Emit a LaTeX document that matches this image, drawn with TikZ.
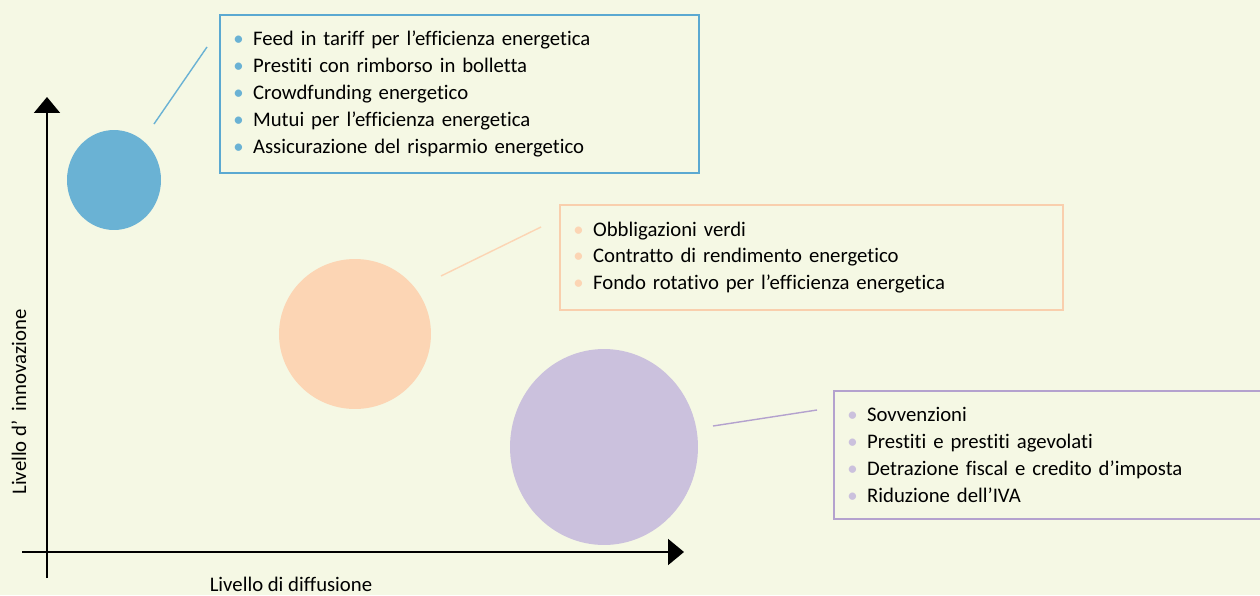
\documentclass[tikz,border=0pt]{standalone}
\usepackage{fontspec}
\setmainfont{Carlito}[Ligatures=NoCommon]
\usetikzlibrary{arrows.meta, positioning, shapes.geometric}
\definecolor{paper}{HTML}{F5F8E4}
\definecolor{bluefill}{HTML}{6AB2D4}
\definecolor{blueline}{HTML}{5BA9D1}
\definecolor{peachfill}{HTML}{FCD5B4}
\definecolor{peachline}{HTML}{F9CFAD}
\definecolor{lilacfill}{HTML}{CBC1DD}
\definecolor{lilacline}{HTML}{B4A2CE}
\newcommand{\listitem}[2]{{\color{#1}\textbullet}\hspace{0.45em}#2}

\begin{document}
\begin{tikzpicture}[
    x=0.02cm, y=-0.02cm,
    every node/.style={font=\fontsize{11.8}{15.25}\selectfont},
    axis/.style={
        line width=1.1pt,
        -{Triangle[length=0.32cm, width=0.52cm]}
    },
    blob/.style={
        ellipse,
        inner sep=0pt,
        fill=#1
    },
    listbox/.style={
        rectangle,
        draw=#1,
        line width=1.1pt,
        fill=paper,
        anchor=north west,
        align=left,
        inner xsep=0.27cm
    },
    leader/.style={
        line width=0.8pt,
        draw=#1
    }
]
\fill[paper] (0,0) rectangle (1260,595);
\useasboundingbox (0,0) rectangle (1260,595);
% axes
\coordinate (ybottom) at (47,578);
\coordinate (ytop) at (47,97);
\coordinate (xleft) at (22,552);
\coordinate (xright) at (684,552);
\draw[axis] (ybottom) -- (ytop);
\draw[axis] (xleft) -- (xright);
\node[rotate=90] (ylabel) at (19,402) {Livello d’\ \ innovazione};
\node (xlabel) at (291,584) {Livello di diffusione};
% blobs
\node[blob=bluefill, minimum width=1.88cm, minimum height=2.0cm] (blueblob) at (114,180) {};
\node[blob=peachfill, minimum width=3.04cm, minimum height=3.0cm] (peachblob) at (355,334) {};
\node[blob=lilacfill, minimum width=3.76cm, minimum height=3.92cm] (lilacblob) at (604,447) {};
% lists
\node[listbox=blueline, text width=9.04cm, minimum height=3.16cm] (bluelist) at (219,14) {
    \listitem{bluefill}{Feed in tariff per l’efficienza energetica}\\
    \listitem{bluefill}{Prestiti con rimborso in bolletta}\\
    \listitem{bluefill}{Crowdfunding energetico}\\
    \listitem{bluefill}{Mutui per l’efficienza energetica}\\
    \listitem{bluefill}{Assicurazione del risparmio energetico}};
\node[listbox=peachline, text width=9.52cm, minimum height=2.1cm] (peachlist) at (559,204) {
    \listitem{peachfill}{Obbligazioni verdi}\\
    \listitem{peachfill}{Contratto di rendimento energetico}\\
    \listitem{peachfill}{Fondo rotativo per l’efficienza energetica}};
\node[listbox=lilacline, text width=8.1cm, minimum height=2.56cm] (lilaclist) at (833,390) {
    \listitem{lilacfill}{Sovvenzioni}\\
    \listitem{lilacfill}{Prestiti e prestiti agevolati}\\
    \listitem{lilacfill}{Detrazione fiscal e credito d’imposta}\\
    \listitem{lilacfill}{Riduzione dell’IVA}};
% leaders
\coordinate (bluetail) at (154,124);
\coordinate (bluehead) at (207,47);
\coordinate (peachtail) at (441,276);
\coordinate (peachhead) at (541,227);
\coordinate (lilactail) at (713,426);
\coordinate (lilachead) at (817,410);
\draw[leader=bluefill] (bluetail) -- (bluehead);
\draw[leader=peachfill] (peachtail) -- (peachhead);
\draw[leader=lilacline] (lilactail) -- (lilachead);
\end{tikzpicture}
\end{document}
